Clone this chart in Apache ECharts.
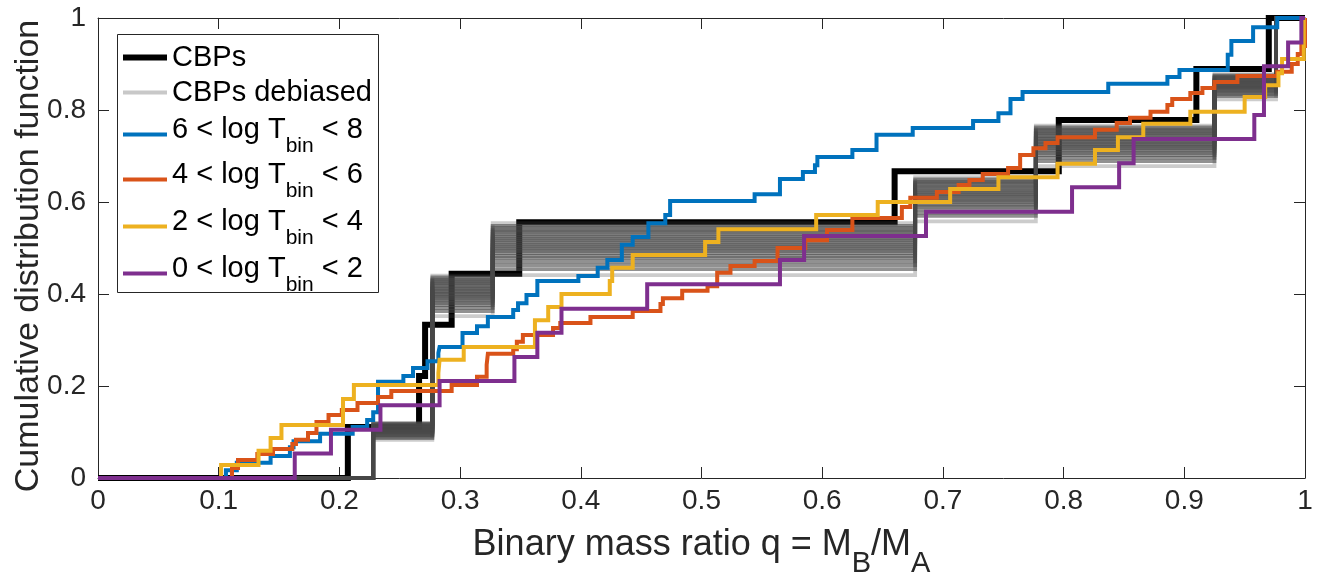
<!DOCTYPE html>
<html><head><meta charset="utf-8">
<script src="https://cdn.jsdelivr.net/npm/echarts@6/dist/echarts.min.js"></script>
<style>html,body{margin:0;padding:0;background:#fff}#c{width:1321px;height:579px}</style>
</head><body><div id="c"></div>
<script>
// ---------- data ----------
const xTickLabels = ['0','0.1','0.2','0.3','0.4','0.5','0.6','0.7','0.8','0.9','1'];
const yTickLabels = ['0','0.2','0.4','0.6','0.8','1'];
const seriesNames = ['CBPs','CBPs debiased','6 < log T_bin < 8','4 < log T_bin < 6','2 < log T_bin < 4','0 < log T_bin < 2'];

// CBPs: jump positions (q) and CDF level after each jump
const cbpQ = [0.207,0.266,0.271,0.293,0.349,0.660,0.796,0.910,0.970];
const cbpY = [0.111,0.222,0.333,0.444,0.556,0.667,0.778,0.889,1.000];

// CBPs debiased: common jump positions, and the levels of each realisation
const debiasedQ = [0.228,0.277,0.327,0.677,0.777,0.925,0.976];
const debiasedLevels = [
  [0.083,0.352,0.441,0.558,0.678,0.823,1],
  [0.087,0.363,0.454,0.570,0.689,0.830,1],
  [0.090,0.370,0.463,0.577,0.696,0.834,1],
  [0.093,0.376,0.471,0.584,0.702,0.838,1],
  [0.095,0.381,0.478,0.590,0.707,0.841,1],
  [0.097,0.385,0.483,0.594,0.711,0.844,1],
  [0.099,0.390,0.489,0.599,0.716,0.847,1],
  [0.100,0.393,0.494,0.603,0.719,0.849,1],
  [0.102,0.397,0.498,0.607,0.723,0.851,1],
  [0.103,0.400,0.503,0.611,0.726,0.853,1],
  [0.105,0.404,0.507,0.615,0.730,0.855,1],
  [0.106,0.407,0.512,0.618,0.733,0.858,1],
  [0.108,0.411,0.516,0.622,0.737,0.860,1],
  [0.109,0.414,0.521,0.626,0.740,0.862,1],
  [0.111,0.418,0.525,0.630,0.744,0.864,1],
  [0.112,0.422,0.530,0.634,0.748,0.866,1],
  [0.114,0.425,0.535,0.638,0.751,0.869,1],
  [0.115,0.429,0.539,0.642,0.755,0.871,1],
  [0.117,0.432,0.544,0.645,0.758,0.873,1],
  [0.118,0.436,0.548,0.649,0.762,0.875,1],
  [0.120,0.440,0.554,0.654,0.766,0.878,1]
];

// 6 < log Tbin < 8
const blueQ = [0.106,0.115,0.143,0.159,0.162,0.184,0.211,0.223,0.228,0.232,0.253,0.261,0.273,0.282,0.283,0.302,0.314,0.323,0.344,0.348,0.355,0.364,0.398,0.414,0.422,0.434,0.443,0.456,0.470,0.474,0.544,0.565,0.584,0.594,0.596,0.625,0.645,0.675,0.725,0.746,0.756,0.766,0.837,0.886,0.896,0.936,0.939,0.957,0.977];
const blueY = [0.017,0.033,0.048,0.067,0.080,0.096,0.111,0.126,0.143,0.209,0.222,0.239,0.254,0.272,0.285,0.315,0.330,0.350,0.365,0.380,0.398,0.428,0.439,0.457,0.474,0.507,0.524,0.554,0.572,0.602,0.617,0.650,0.665,0.680,0.698,0.713,0.746,0.761,0.776,0.793,0.824,0.839,0.857,0.872,0.887,0.920,0.950,0.980,1.000];

// 4 < log Tbin < 6
const orangeQ = [0.111,0.116,0.132,0.145,0.161,0.164,0.174,0.181,0.191,0.202,0.215,0.232,0.243,0.293,0.314,0.322,0.323,0.344,0.347,0.352,0.377,0.383,0.408,0.443,0.466,0.468,0.484,0.505,0.513,0.524,0.544,0.563,0.586,0.604,0.625,0.666,0.673,0.695,0.713,0.722,0.733,0.754,0.764,0.775,0.785,0.795,0.826,0.844,0.855,0.872,0.886,0.890,0.905,0.915,0.925,0.944,0.977,0.989,0.994,0.997,1.000];
const orangeY = [0.022,0.039,0.052,0.063,0.074,0.083,0.098,0.122,0.137,0.148,0.163,0.176,0.189,0.202,0.220,0.246,0.270,0.280,0.296,0.311,0.326,0.337,0.350,0.363,0.378,0.391,0.407,0.417,0.446,0.461,0.472,0.500,0.517,0.539,0.565,0.589,0.609,0.622,0.637,0.648,0.661,0.674,0.702,0.717,0.728,0.741,0.757,0.772,0.783,0.796,0.811,0.824,0.837,0.848,0.861,0.874,0.883,0.900,0.922,0.939,1.000];

// 2 < log Tbin < 4
const yellowQ = [0.102,0.133,0.143,0.152,0.203,0.212,0.282,0.283,0.303,0.362,0.373,0.384,0.424,0.426,0.443,0.503,0.514,0.595,0.646,0.706,0.746,0.795,0.826,0.845,0.866,0.905,0.950,0.967,0.978,0.981,0.999];
const yellowY = [0.028,0.059,0.087,0.115,0.172,0.202,0.228,0.257,0.285,0.343,0.372,0.400,0.428,0.457,0.485,0.513,0.541,0.572,0.600,0.628,0.654,0.683,0.713,0.741,0.770,0.796,0.828,0.854,0.880,0.911,1.000];

// 0 < log Tbin < 2
const purpleQ = [0.163,0.193,0.234,0.283,0.345,0.364,0.384,0.455,0.565,0.585,0.686,0.807,0.846,0.858,0.958,0.966,0.986,0.997];
const purpleY = [0.053,0.105,0.158,0.211,0.263,0.316,0.368,0.421,0.474,0.526,0.579,0.632,0.684,0.737,0.789,0.895,0.947,1.000];

// ---------- build ----------
const FONT = '"Liberation Sans", Arial, Helvetica, sans-serif';
const AX = '#262626';
function stairs(q, y) {
  const d = [[0, 0]];
  for (let i = 0; i < q.length; i++) d.push([q[i], y[i]]);
  d.push([1, y[y.length - 1]]);
  return d;
}
function lineSeries(name, data, color, width, opacity) {
  return {
    name, type: 'line', step: 'end', data, symbol: 'none', clip: false, silent: true,
    animation: false,
    lineStyle: { color, width, opacity, join: 'miter', cap: 'butt' }
  };
}
const colors = ['#000000', '#c8c8c8', '#0072BD', '#D95319', '#EDB120', '#7E2F8E'];
const series = [];
series.push(lineSeries(seriesNames[0], stairs(cbpQ, cbpY), '#000000', 6, 1));
debiasedLevels.forEach((lv, i) => {
  const edge = (i === 0 || i === debiasedLevels.length - 1);
  series.push(lineSeries(seriesNames[1], stairs(debiasedQ, lv), '#474747', 3.8, edge ? 0.28 : 0.6));
});
series.push(lineSeries(seriesNames[2], stairs(blueQ, blueY), colors[2], 4, 1));
series.push(lineSeries(seriesNames[3], stairs(orangeQ, orangeY), colors[3], 4, 1));
series.push(lineSeries(seriesNames[4], stairs(yellowQ, yellowY), colors[4], 4, 1));
series.push(lineSeries(seriesNames[5], stairs(purpleQ, purpleY), colors[5], 4, 1));

const tickFmt = (labels, step) => (v) => {
  const i = Math.round(v / step);
  return labels[i] !== undefined ? labels[i] : '';
};
function xAx(pos, show) {
  return {
    type: 'value', min: 0, max: 1, interval: 0.1, position: pos,
    axisLine: { show: true, onZero: false, lineStyle: { color: AX, width: 1 } },
    axisTick: { show: true, inside: true, length: 11, lineStyle: { color: AX, width: 1 } },
    axisLabel: { show: show, fontSize: 28, color: AX, fontFamily: FONT, margin: 9, formatter: tickFmt(xTickLabels, 0.1) },
    splitLine: { show: false }
  };
}
function yAx(pos, show) {
  return {
    type: 'value', min: 0, max: 1, interval: 0.2, position: pos,
    axisLine: { show: true, onZero: false, lineStyle: { color: AX, width: 1 } },
    axisTick: { show: true, inside: true, length: 11, lineStyle: { color: AX, width: 1 } },
    axisLabel: { show: show, fontSize: 28, color: AX, fontFamily: FONT, margin: 12, formatter: tickFmt(yTickLabels, 0.2) },
    splitLine: { show: false }
  };
}
const xa = xAx('bottom', true);
xa.name = '{t|Binary mass ratio q = M}{s|B}{t|/M}{s|A}';
xa.nameLocation = 'middle';
xa.nameGap = 54;
xa.nameMoveOverlap = false;
xa.nameTextStyle = {
  color: AX, fontFamily: FONT,
  rich: {
    t: { fontSize: 36, fontFamily: FONT, color: AX, lineHeight: 40, padding: [0, 0, 13, 0] },
    s: { fontSize: 29, fontFamily: FONT, color: AX, lineHeight: 30, padding: [23, 0, 0, 0] }
  }
};
const ya = yAx('left', true);
ya.name = 'Cumulative distribution function';
ya.nameLocation = 'middle';
ya.nameGap = 52;
ya.nameMoveOverlap = false;
ya.nameTextStyle = { color: AX, fontFamily: FONT, fontSize: 34, padding: [0, 16, 0, 0] };

// legend: one legend component per entry so each row sits where the reference has it
const legendRich = {
  t: { fontSize: 29, fontFamily: FONT, color: '#000', padding: [1.5, 0, 1.5, 0] },
  u: { fontSize: 29, fontFamily: FONT, color: '#000', padding: [0, 0, 10, 0] },
  s: { fontSize: 21, fontFamily: FONT, color: '#000', padding: [23, 0, 0, 0] }
};
const legendIconY = [53, 88, 128, 173, 220, 267];   // icon centre rows of the legend box
const legends = seriesNames.map((n, i) => {
  const hasSub = n.indexOf('_') >= 0;
  return {
    orient: 'vertical', left: 123, top: legendIconY[i] - (hasSub ? 13 : 10),
    padding: 0, itemGap: 0, itemWidth: 44, itemHeight: 6, symbolKeepAspect: true,
    selectedMode: false, z: 5,
    data: [{ name: n, icon: i === 0 ? 'path://M0,0H44V6H0Z' : 'path://M0,0H44V4H0Z',
             itemStyle: { color: colors[i], borderWidth: 0, opacity: 1 } }],
    formatter: (nm) => nm.indexOf('_') < 0 ? '{t|' + nm + '}' : '{u|' + nm.replace(/_([a-z]+)/, '}{s|$1}{u|') + '}',
    textStyle: { rich: legendRich, fontFamily: FONT, fontSize: 29, color: '#000' }
  };
});

const chart = echarts.init(document.getElementById('c'), null, { renderer: 'canvas' });
chart.setOption({
  animation: false,
  backgroundColor: '#fff',
  grid: { left: 98, right: 16, top: 18, bottom: 101, containLabel: false, outerBoundsMode: 'none' },
  xAxis: [xa, xAx('top', false)],
  yAxis: [ya, yAx('right', false)],
  legend: legends,
  graphic: [{
    type: 'rect', z: 4, silent: true,
    shape: { x: 117.5, y: 34.5, width: 261, height: 258 },
    style: { fill: '#fff', stroke: AX, lineWidth: 1 }
  }],
  series
});
</script></body></html>
